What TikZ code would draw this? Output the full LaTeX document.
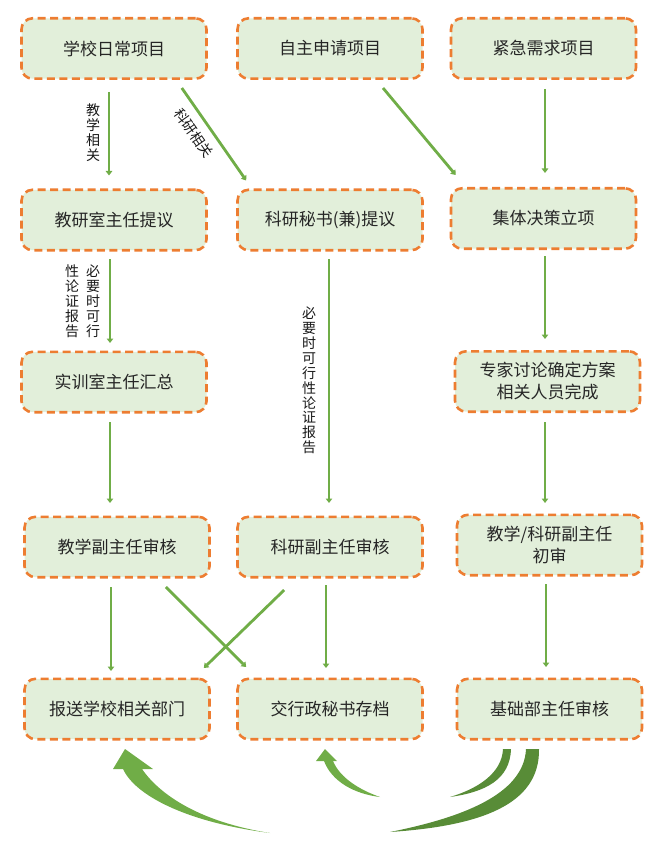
\documentclass[tikz,border=0pt]{standalone}
\usepackage{fontspec}
\setmainfont{Noto Sans CJK SC}
\usetikzlibrary{arrows.meta,calc}
\definecolor{boxfill}{HTML}{E2EFDA}
\definecolor{boxline}{HTML}{ED7D31}
\definecolor{arrgreen}{HTML}{70AD47}
\definecolor{darkgreen}{HTML}{588C37}
\begin{document}
\begin{tikzpicture}[x=1pt,y=1pt,
 stagebox/.style={draw=boxline, fill=boxfill, line width=2.6pt, dash pattern=on 8pt off 4.5pt, rounded corners=11pt, minimum width=185pt, minimum height=60.4pt, inner sep=0pt, align=center, font=\fontsize{17}{22}\selectfont, text=black!85},
 arr/.style={draw=arrgreen, line width=2.8pt, -{Triangle[width=6.5pt,length=4.5pt]}},
 lbl/.style={font=\fontsize{14}{14.9}\selectfont, align=center, inner sep=0pt, text=black!90}]
\useasboundingbox (0,0) rectangle (656,-842);

% boxes
\node[stagebox] (n11) at (114,-48.5) {学校日常项目};
\node[stagebox] (n12) at (330,-48.5) {自主申请项目};
\node[stagebox] (n13) at (543.5,-48.5) {紧急需求项目};
\node[stagebox] (n21) at (114,-220) {教研室主任提议};
\node[stagebox] (n22) at (330,-220) {科研秘书(兼)提议};
\node[stagebox] (n23) at (543.5,-218.5) {集体决策立项};
\node[stagebox] (n31) at (114,-382) {实训室主任汇总};
\node[stagebox] (n33) at (547.5,-381.5) {专家讨论确定方案\\相关人员完成};
\node[stagebox] (n41) at (117,-547) {教学副主任审核};
\node[stagebox] (n42) at (330,-547) {科研副主任审核};
\node[stagebox] (n43) at (549.5,-545) {教学/科研副主任\\初审};
\node[stagebox] (n51) at (117,-709) {报送学校相关部门};
\node[stagebox] (n52) at (330,-709) {交行政秘书存档};
\node[stagebox] (n53) at (549.5,-709) {基础部主任审核};

% connectors
\draw[arr] ([xshift=-5pt,yshift=-12pt]n11.south) -- ([xshift=-5pt,yshift=13pt]n21.north);
\draw[arr] ([xshift=-26pt,yshift=-8pt]n11.south east) -- ([xshift=10pt,yshift=8pt]n22.north west);
\draw[arr] ([xshift=53pt,yshift=-8pt]n12.south) -- ([xshift=6pt,yshift=12pt]n23.north west);
\draw[arr] ([xshift=1.5pt,yshift=-9pt]n13.south) -- ([xshift=1.5pt,yshift=14pt]n23.north);
\draw[arr] ([xshift=-4pt,yshift=-7.5pt]n21.south) -- ([xshift=-4pt,yshift=7.5pt]n31.north);
\draw[arr] ([xshift=-1pt,yshift=-7.5pt]n22.south) -- ([xshift=-1pt,yshift=12.5pt]n42.north);
\draw[arr] ([xshift=1.5pt,yshift=-6pt]n23.south) -- ([xshift=-2.5pt,yshift=11pt]n33.north);
\draw[arr] ([xshift=-4pt,yshift=-8.5pt]n31.south) -- ([xshift=-7pt,yshift=12.5pt]n41.north);
\draw[arr] ([xshift=-2.5pt,yshift=-9pt]n33.south) -- ([xshift=-4.5pt,yshift=10.5pt]n43.north);
\draw[arr] ([xshift=-6pt,yshift=-8.5pt]n41.south) -- ([xshift=-6pt,yshift=6.5pt]n51.north);
\draw[arr] ([xshift=-45pt,yshift=-8.5pt]n41.south east) -- ([xshift=10pt,yshift=10.5pt]n52.north west);
\draw[arr] ([xshift=48pt,yshift=-11.5pt]n42.south west) -- ([xshift=-7pt,yshift=9.5pt]n51.north east);
\draw[arr] ([xshift=-4pt,yshift=-6.5pt]n42.south) -- ([xshift=-4pt,yshift=9.5pt]n52.north);
\draw[arr] ([xshift=-3.5pt,yshift=-7.5pt]n43.south) -- ([xshift=-3.5pt,yshift=10.5pt]n53.north);

% labels
\node[lbl] (l1) at (93,-132.5) {教\\学\\相\\关};
\node[lbl, rotate=-55] (l2) at (194,-133) {科研相关};
\node[lbl] (l3) at (93,-301) {必\\要\\时\\可\\行};
\node[lbl] (l4) at (72,-301) {性\\论\\证\\报\\告};
\node[lbl] (l5) at (309,-380.5) {必\\要\\时\\可\\行\\性\\论\\证\\报\\告};

% curved return arrows (bottom)
\fill[darkgreen] (526,-749) -- (539,-749) .. controls (540,-805) and (480,-826) .. (390,-832)
  .. controls (460,-818) and (524,-795) .. (526,-749) -- cycle;
\fill[darkgreen] (503,-749) -- (511,-749) .. controls (510,-780) and (485,-792) .. (450,-797)
  .. controls (480,-788) and (502,-772) .. (503,-749) -- cycle;
\fill[arrgreen] (125,-749) -- (153,-769) -- (142,-769)
  .. controls (160,-795) and (200,-822) .. (270,-833)
  .. controls (185,-822) and (135,-795) .. (123,-769) -- (113,-769) -- cycle;
\fill[arrgreen] (325,-749) -- (337,-761) -- (333,-761)
  .. controls (340,-778) and (360,-790) .. (380,-797)
  .. controls (355,-794) and (332,-782) .. (324,-761) -- (316,-761) -- cycle;
\end{tikzpicture}
\end{document}
